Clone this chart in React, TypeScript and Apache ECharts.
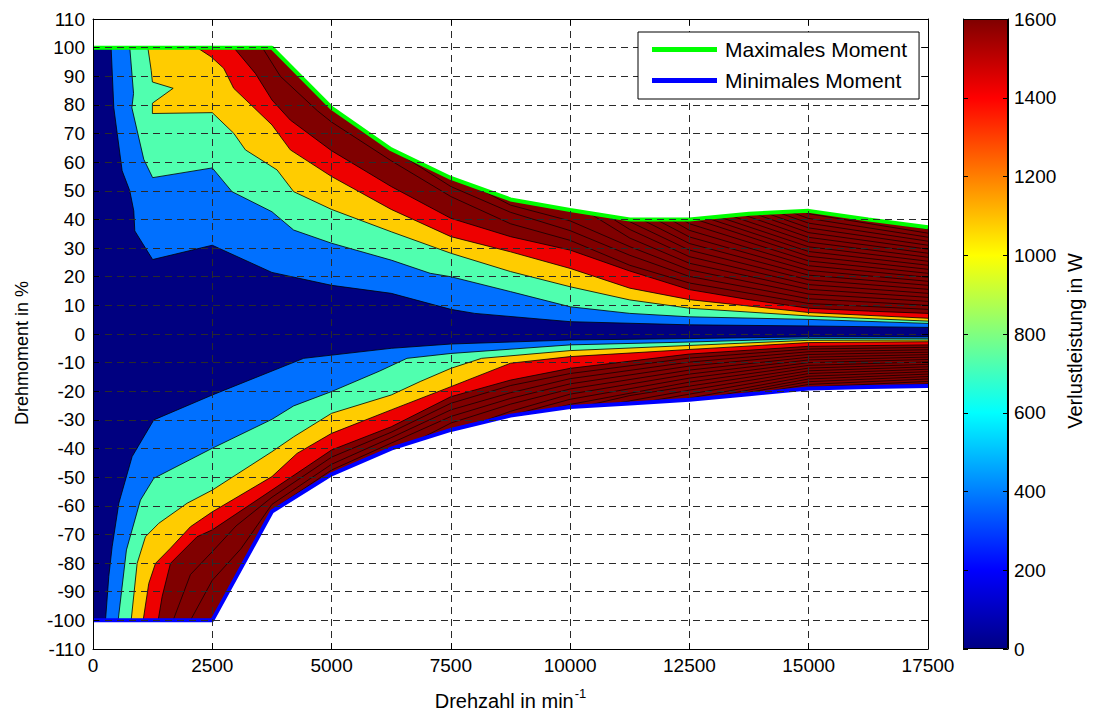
import React, { useEffect, useRef } from "react";
import * as echarts from "echarts";

type P = [number, number];

const FONT = "'Liberation Sans', Arial, sans-serif";

// Envelopes (speed in 1/min, torque in %)
const maxTorque: P[] = [[0,100],[3750,100],[5000,79],[6250,64.5],[7500,54.5],[8750,47],[10000,43.3],[11250,40],[12500,40],[13750,42],[15000,43],[16250,40],[17500,37.3]];
const minTorque: P[] = [[0,-100],[2500,-100],[3750,-62],[5000,-49],[6250,-40],[7500,-33.5],[8750,-28.5],[10000,-25.5],[11250,-24.3],[12500,-23],[13750,-21],[15000,-19],[16250,-18.5],[17500,-18.2]];

// Upper contour boundaries (top edge of each colour band)
const upperNavy: P[] = [[0,100],[380,100],[436,79],[611,57],[771,50],[855,43],[876,36],[1250,26],[2500,31],[3750,21.5],[5000,17],[6250,14.2],[7500,8.6],[8000,7.2],[10000,4.3],[12500,3.2],[15000,2.8],[17500,2.3]];
const upperBlue: P[] = [[0,100],[771,100],[850,84],[815,79],[1064,61],[1250,54.6],[2500,58],[2914,49.7],[3750,42.7],[4206,36.3],[5000,31.7],[6250,25.8],[7067,21.2],[7500,20],[8750,14.8],[10000,9.5],[11250,7.2],[12500,6],[15000,5.1],[17500,3.7]];
const upperAqua: P[] = [[0,100],[1150,100],[1220,92],[1245,88],[1680,85.8],[1245,80.6],[1245,77],[2500,77.3],[2949,70.1],[3194,64.3],[3857,57.3],[4206,49.7],[5000,43.5],[6250,35.7],[7500,28.2],[8750,21.8],[10000,16.5],[11250,11.9],[12500,9],[15000,6.3],[17500,4.5]];
const upperYellow: P[] = [[0,100],[2181,100],[2475,96.8],[2739,92.8],[2949,85.8],[3752,73],[4135,64.3],[5000,55],[6250,43.5],[7500,34],[8750,28.7],[10000,22.9],[11250,16],[12500,12],[15000,7.5],[17500,5.5]];
const upperRed: P[] = [[0,100],[2950,100],[3403,91],[3752,81.7],[4135,74.7],[5000,64],[6250,51.5],[7500,40.4],[8750,34],[10000,29.3],[11250,22],[12500,15.5],[13750,12],[15000,9],[16250,8],[17500,7.2]];

// Lower contour boundaries (bottom edge of each colour band)
const lowerNavy: P[] = [[0,-100],[262,-100],[331,-84.7],[401,-74.3],[541,-59.1],[820,-42.8],[1274,-30],[2500,-21.3],[4415,-8.5],[6250,-5],[7500,-3.5],[10000,-2.1],[12500,-1.6],[15000,-1],[17500,-0.9]];
const lowerBlue: P[] = [[0,-100],[527,-100],[701,-75.4],[995,-58],[1274,-50.4],[2500,-39.9],[3750,-29.8],[4206,-25.1],[5000,-20.1],[6000,-13],[6580,-8.5],[7500,-6.8],[10000,-3.8],[12500,-2.8],[15000,-1.6],[17500,-1.5]];
const lowerAqua: P[] = [[0,-100],[800,-100],[925,-80.1],[1099,-70.8],[1378,-66.1],[1972,-59.1],[2500,-54.5],[3750,-41.1],[4206,-35.9],[5000,-27.7],[6250,-21.3],[6857,-16.6],[7500,-12],[8144,-8.5],[10000,-5.8],[12500,-4],[15000,-2.2],[17500,-2.1]];
const lowerYellow: P[] = [[0,-100],[1051,-100],[1169,-87.1],[1309,-80.1],[1623,-74.8],[2042,-67.3],[2500,-62.1],[3750,-49.8],[4276,-41.7],[5000,-34.7],[6250,-26.5],[7500,-18.4],[8750,-10.2],[10000,-7.9],[12500,-5.4],[15000,-3],[17500,-2.7]];
const lowerRed: P[] = [[0,-100],[1365,-100],[1449,-91.7],[1623,-80.1],[2181,-70.8],[2500,-68.4],[3750,-54.5],[5000,-40.5],[6250,-32.4],[7500,-21.9],[8750,-16.1],[10000,-12],[12500,-7],[15000,-4.3],[17500,-3.8]];

// Further iso-loss lines inside the saturated (dark red) region
const upperLossLines: P[][] = [
  [[3550,100],[3926,90],[4700,78],[5000,74],[6250,60.5],[7500,48],[8750,38.5],[10000,32.7],[11250,24],[12500,17.8],[15000,10.65],[17500,8.6]],
  [[6300,64.2],[7500,51.5],[8750,42.5],[10000,36.1],[11250,27.5],[12500,20.1],[15000,12.3],[17500,10]],
  [[8000,51.5],[8750,45],[10000,39.5],[11250,30.5],[12500,22.4],[15000,13.95],[17500,11.4]],
  [[10400,42.2],[11250,33.5],[12500,24.7],[15000,15.6],[17500,12.8]],
  [[10800,41.2],[11250,36.5],[12500,27],[15000,17.25],[17500,14.2]],
  [[11100,40.4],[12500,29.3],[15000,18.9],[17500,15.6]],
  [[11500,40],[12500,31.6],[15000,20.55],[17500,17]],
  [[11800,40],[12500,33.9],[15000,22.2],[17500,18.4]],
  [[12100,40],[12500,36.2],[15000,23.85],[17500,19.8]],
  [[12350,40],[12500,38.5],[15000,25.5],[17500,21.2]],
  [[12600,40.2],[15000,27.15],[17500,22.6]],
  [[12850,40.6],[15000,28.8],[17500,24]],
  [[13100,41],[15000,30.45],[17500,25.4]],
  [[13350,41.4],[15000,32.1],[17500,26.8]],
  [[13600,41.8],[15000,33.75],[17500,28.2]],
  [[13850,42.1],[15000,35.4],[17500,29.6]],
  [[14100,42.3],[15000,37.05],[17500,31]],
  [[14350,42.5],[15000,38.7],[17500,32.4]],
  [[14600,42.7],[15000,40.35],[17500,33.8]],
  [[14850,42.9],[15000,42],[17500,35.2]],
  [[16400,39.7],[17500,36.6]],
];
const lowerLossLines: P[][] = [
  [[1679,-100],[2042,-84],[2500,-76],[3000,-67],[3750,-57],[5000,-43],[6250,-34.3],[7500,-24.2],[8750,-18],[10000,-13.8],[12500,-8.4],[15000,-5.25],[17500,-4.65]],
  [[2042,-100],[2500,-86],[3100,-75],[3750,-59.5],[5000,-45.5],[6250,-36.2],[7500,-26.5],[8750,-20.5],[10000,-15.6],[12500,-9.8],[15000,-6.2],[17500,-5.5]],
  [[2800,-90.9],[3750,-61.5],[5000,-47.5],[6250,-38.1],[7500,-28.8],[8750,-22.5],[10000,-17.4],[12500,-11.2],[15000,-7.15],[17500,-6.35]],
  [[6800,-37.1],[7500,-31.1],[8750,-24.5],[10000,-19.2],[12500,-12.6],[15000,-8.1],[17500,-7.2]],
  [[8000,-31.5],[8750,-27],[10000,-21],[12500,-14],[15000,-9.05],[17500,-8.05]],
  [[8700,-28.7],[10000,-22.8],[12500,-15.4],[15000,-10],[17500,-8.9]],
  [[9400,-27],[10000,-24.6],[12500,-16.8],[15000,-10.95],[17500,-9.75]],
  [[10300,-25.2],[11250,-21.5],[12500,-18.2],[15000,-11.9],[17500,-10.6]],
  [[10800,-24.7],[12500,-19.6],[15000,-12.85],[17500,-11.45]],
  [[11400,-24.2],[12500,-21],[15000,-13.8],[17500,-12.3]],
  [[12000,-23.5],[12500,-22.4],[15000,-14.75],[17500,-13.15]],
  [[12800,-22.5],[15000,-15.7],[17500,-14]],
  [[13300,-21.7],[15000,-16.65],[17500,-14.85]],
  [[13800,-21],[15000,-17.6],[17500,-15.7]],
  [[14400,-20],[15000,-18.55],[17500,-16.55]],
  [[15500,-18.8],[17500,-17.4]],
];

const bandColors = {
  navy: "#000080",
  blue: "#0070FF",
  aqua: "#50FFAF",
  yellow: "#FFCC00",
  red: "#EE0000",
  darkred: "#800000",
};

const lossMax = 1600;
const lossInterval = 200;

export default function App() {
  const ref = useRef<HTMLDivElement>(null);
  useEffect(() => {
    const chart = echarts.init(ref.current!, undefined, { renderer: "svg" });

    const fill = (data: P[], color: string, stroke = true) => ({
      type: "line",
      data,
      symbol: "none",
      silent: true,
      z: 2,
      lineStyle: stroke ? { color: "#000", width: 0.8 } : { width: 0, opacity: 0 },
      areaStyle: { color, opacity: 1 },
    });
    const iso = (data: P[]) => ({
      type: "line",
      data,
      symbol: "none",
      silent: true,
      z: 3,
      lineStyle: { color: "#000", width: 0.7 },
    });

    const plain = (v: number) => String(v);
    const gridDash = { show: true, lineStyle: { color: "#2a2a2a", type: [7, 5], width: 1 } };
    const axisLine = { show: true, onZero: false, lineStyle: { color: "#000", width: 1 } };
    const tick = { show: true, inside: true, length: 6, lineStyle: { color: "#000" } };
    const label = { color: "#000", fontSize: 19, fontFamily: FONT, formatter: plain };

    const series: any[] = [
      fill(maxTorque, bandColors.darkred, false),
      fill(upperRed, bandColors.red),
      fill(upperYellow, bandColors.yellow),
      fill(upperAqua, bandColors.aqua),
      fill(upperBlue, bandColors.blue),
      fill(upperNavy, bandColors.navy),
      fill(minTorque, bandColors.darkred, false),
      fill(lowerRed, bandColors.red),
      fill(lowerYellow, bandColors.yellow),
      fill(lowerAqua, bandColors.aqua),
      fill(lowerBlue, bandColors.blue),
      fill(lowerNavy, bandColors.navy),
      ...upperLossLines.map(iso),
      ...lowerLossLines.map(iso),
      {
        name: "Maximales Moment",
        type: "line",
        data: maxTorque,
        symbol: "none",
        silent: true,
        z: 4,
        lineStyle: { color: "#00FF00", width: 4 },
        itemStyle: { color: "#00FF00" },
      },
      {
        name: "Minimales Moment",
        type: "line",
        data: minTorque,
        symbol: "none",
        silent: true,
        z: 4,
        lineStyle: { color: "#0000FF", width: 4 },
        itemStyle: { color: "#0000FF" },
      },
      {
        type: "bar",
        xAxisIndex: 2,
        yAxisIndex: 2,
        data: [lossMax],
        barWidth: "100%",
        silent: true,
        itemStyle: {
          borderColor: "#000",
          borderWidth: 1,
          color: new echarts.graphic.LinearGradient(0, 1, 0, 0, [
            { offset: 0, color: "#000084" },
            { offset: 0.125, color: "#0000FF" },
            { offset: 0.375, color: "#00FFFF" },
            { offset: 0.625, color: "#FFFF00" },
            { offset: 0.875, color: "#FF0000" },
            { offset: 1, color: "#800000" },
          ]),
        },
      },
    ];

    const option: any = {
      animation: false,
      textStyle: { fontFamily: FONT },
      grid: [
        { left: 93, top: 19, width: 835, height: 630 },
        { left: 963, top: 19, width: 45, height: 630 },
      ],
      legend: {
        data: ["Maximales Moment", "Minimales Moment"],
        left: 638,
        top: 32,
        orient: "vertical",
        backgroundColor: "#fff",
        borderColor: "#000",
        borderWidth: 1,
        borderRadius: 0,
        padding: [7, 12, 8, 14],
        itemGap: 10,
        itemWidth: 65,
        itemHeight: 5,
        icon: "rect",
        selectedMode: false,
        z: 20,
        textStyle: { fontSize: 21, color: "#000", fontFamily: FONT, padding: [0, 0, 0, 3] },
      },
      xAxis: [
        {
          type: "value", gridIndex: 0, min: 0, max: 17500, interval: 2500, position: "bottom", z: 10,
          axisLine, axisTick: tick, axisLabel: { ...label, margin: 7 }, splitLine: gridDash,
          name: "{a|Drehzahl in min}{s|-1}", nameLocation: "middle", nameGap: 38,
          nameTextStyle: {
            rich: {
              a: { fontSize: 20, fontFamily: FONT, color: "#000", lineHeight: 24, verticalAlign: "bottom" },
              s: { fontSize: 13, fontFamily: FONT, color: "#000", lineHeight: 24, verticalAlign: "top", padding: [0, 0, 10, 1] },
            },
          },
        },
        {
          type: "value", gridIndex: 0, min: 0, max: 17500, interval: 2500, position: "top", z: 10,
          axisLine, axisTick: tick, axisLabel: { show: false }, splitLine: { show: false },
        },
        { type: "category", gridIndex: 1, data: [""], show: false },
      ],
      yAxis: [
        {
          type: "value", gridIndex: 0, min: -110, max: 110, interval: 10, position: "left", z: 10,
          axisLine, axisTick: tick, axisLabel: { ...label, margin: 8 }, splitLine: gridDash,
          name: "Drehmoment in %", nameLocation: "middle", nameRotate: 90, nameGap: 62,
          nameTextStyle: { fontSize: 18, color: "#000", fontFamily: FONT, padding: [0, 38, 0, 0] },
        },
        {
          type: "value", gridIndex: 0, min: -110, max: 110, interval: 10, position: "right", z: 10,
          axisLine, axisTick: tick, axisLabel: { show: false }, splitLine: { show: false },
        },
        {
          type: "value", gridIndex: 1, min: 0, max: lossMax, interval: lossInterval, position: "right", z: 10,
          axisLine, axisTick: { ...tick, length: 5 }, axisLabel: { ...label, margin: 6 }, splitLine: { show: false },
          name: "Verlustleistung in W", nameLocation: "middle", nameRotate: 90, nameGap: 57,
          nameTextStyle: { fontSize: 20, color: "#000", fontFamily: FONT, padding: [0, 14, 0, 0] },
        },
        {
          type: "value", gridIndex: 1, min: 0, max: lossMax, interval: lossInterval, position: "left", z: 10,
          axisLine, axisTick: { ...tick, length: 5 }, axisLabel: { show: false }, splitLine: { show: false },
        },
      ],
      series,
    };

    chart.setOption(option);
    return () => chart.dispose();
  }, []);

  return (
    <div
      ref={ref}
      style={{ position: "absolute", left: 0, top: 0, width: 1099, height: 716, background: "#fff" }}
    />
  );
}
